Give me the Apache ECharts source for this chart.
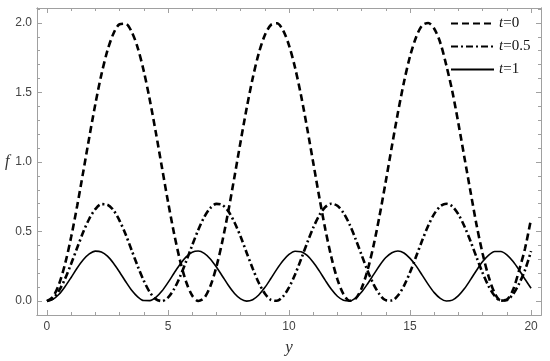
<!DOCTYPE html>
<html>
<head>
<meta charset="utf-8">
<script src="https://cdn.jsdelivr.net/npm/echarts@6/dist/echarts.min.js"></script>
<style>
  html, body { margin: 0; padding: 0; background: #fff; }
  #main { width: 550px; height: 361px; }
</style>
</head>
<body>
<div id="main"></div>
<script>
// sample points along y (step 0.25)
var yValues = [0, 0.25, 0.5, 0.75, 1, 1.25, 1.5, 1.75, 2, 2.25, 2.5, 2.75, 3, 3.25, 3.5, 3.75,
  4, 4.25, 4.5, 4.75, 5, 5.25, 5.5, 5.75, 6, 6.25, 6.5, 6.75, 7, 7.25, 7.5, 7.75,
  8, 8.25, 8.5, 8.75, 9, 9.25, 9.5, 9.75, 10, 10.25, 10.5, 10.75, 11, 11.25, 11.5, 11.75,
  12, 12.25, 12.5, 12.75, 13, 13.25, 13.5, 13.75, 14, 14.25, 14.5, 14.75, 15, 15.25, 15.5, 15.75,
  16, 16.25, 16.5, 16.75, 17, 17.25, 17.5, 17.75, 18, 18.25, 18.5, 18.75, 19, 19.25, 19.5, 19.75, 20];

// t=0
var f0 = [0, 0.031, 0.122, 0.268, 0.460, 0.685, 0.929, 1.178, 1.416, 1.628, 1.801, 1.924, 1.990, 1.994, 1.936, 1.821,
  1.654, 1.446, 1.211, 0.962, 0.716, 0.488, 0.291, 0.139, 0.040, 0.001, 0.023, 0.107, 0.246, 0.432, 0.653, 0.896,
  1.146, 1.386, 1.602, 1.781, 1.911, 1.985, 1.997, 1.948, 1.839, 1.678, 1.476, 1.243, 0.996, 0.748, 0.517, 0.315,
  0.156, 0.050, 0.002, 0.017, 0.093, 0.225, 0.405, 0.622, 0.863, 1.113, 1.355, 1.575, 1.760, 1.897, 1.982, 1.999,
  1.958, 1.857, 1.694, 1.505, 1.275, 1.029, 0.785, 0.546, 0.340, 0.174, 0.056, 0.005, 0.011, 0.079, 0.218, 0.378, 0.592];

// t=0.5
var f05 = [0, 0.019, 0.075, 0.161, 0.268, 0.383, 0.496, 0.592, 0.661, 0.697, 0.693, 0.653, 0.579, 0.480, 0.366, 0.251,
  0.147, 0.064, 0.014, 0.000, 0.025, 0.086, 0.176, 0.285, 0.401, 0.511, 0.604, 0.669, 0.699, 0.690, 0.644, 0.565,
  0.464, 0.348, 0.234, 0.132, 0.055, 0.009, 0.002, 0.032, 0.098, 0.191, 0.302, 0.418, 0.527, 0.616, 0.676, 0.700,
  0.685, 0.634, 0.552, 0.446, 0.331, 0.217, 0.119, 0.046, 0.006, 0.004, 0.040, 0.110, 0.207, 0.320, 0.435, 0.542,
  0.627, 0.682, 0.700, 0.680, 0.623, 0.536, 0.430, 0.314, 0.202, 0.106, 0.037, 0.003, 0.007, 0.049, 0.124, 0.223, 0.360];

// t=1
var f1 = [0, 0.013, 0.049, 0.105, 0.170, 0.238, 0.297, 0.339, 0.359, 0.353, 0.323, 0.272, 0.209, 0.141, 0.078, 0.031,
  0.004, 0.003, 0.026, 0.072, 0.133, 0.200, 0.265, 0.318, 0.351, 0.360, 0.343, 0.303, 0.245, 0.179, 0.112, 0.055,
  0.016, 0.000, 0.010, 0.044, 0.097, 0.162, 0.230, 0.290, 0.335, 0.358, 0.355, 0.328, 0.279, 0.217, 0.149, 0.085,
  0.035, 0.006, 0.001, 0.022, 0.065, 0.125, 0.192, 0.258, 0.313, 0.348, 0.360, 0.346, 0.307, 0.253, 0.187, 0.120,
  0.061, 0.020, 0.001, 0.007, 0.039, 0.090, 0.154, 0.222, 0.284, 0.331, 0.356, 0.357, 0.333, 0.286, 0.225, 0.157, 0.092];

var seriesNames = ['t=0', 't=0.5', 't=1'];

// tick values
var xMajor = [0, 5, 10, 15, 20];
var xMinor = [1, 2, 3, 4, 6, 7, 8, 9, 11, 12, 13, 14, 16, 17, 18, 19];
var fMajor = [0, 0.5, 1, 1.5, 2];
var fMinor = [0.1, 0.2, 0.3, 0.4, 0.6, 0.7, 0.8, 0.9, 1.1, 1.2, 1.3, 1.4, 1.6, 1.7, 1.8, 1.9, 2.1];

var frameColor = '#a0a0a0';
var xMin = -0.41, xMax = 20.41;
var fMin = -0.1, fMax = 2.107;

function pairs(vals) {
  return yValues.map(function (y, i) { return [y, vals[i]]; });
}

// one axis per tick set (major/minor, bottom/top, left/right) so the frame gets mirrored ticks
function frameAxis(kind, pos, ticks, len, labels) {
  var ax = {
    type: 'value',
    position: pos,
    min: kind === 'x' ? xMin : fMin,
    max: kind === 'x' ? xMax : fMax,
    splitLine: { show: false },
    axisLine: { show: true, onZero: false, lineStyle: { color: frameColor, width: 1 } },
    axisTick: { show: true, inside: true, length: len, customValues: ticks,
      lineStyle: { color: frameColor, width: 1 } },
    axisLabel: { show: false }
  };
  if (labels) {
    ax.axisLabel = {
      show: true,
      customValues: ticks,
      color: '#444',
      fontFamily: 'Liberation Sans',
      fontSize: 12,
      margin: kind === 'x' ? 6 : 5,
      formatter: function (v) { return kind === 'x' ? String(v) : v.toFixed(1); }
    };
  }
  return ax;
}

var xAxes = [
  frameAxis('x', 'bottom', xMajor, 5, true),
  frameAxis('x', 'bottom', xMinor, 3, false),
  frameAxis('x', 'top', xMajor, 5, false),
  frameAxis('x', 'top', xMinor, 3, false)
];
xAxes[0].name = 'y';
xAxes[0].nameLocation = 'middle';
xAxes[0].nameGap = 24;
xAxes[0].nameTextStyle = { fontFamily: 'Liberation Serif', fontStyle: 'italic', fontSize: 17, color: '#333' };

var yAxes = [
  frameAxis('y', 'left', fMajor, 5, true),
  frameAxis('y', 'left', fMinor, 3, false),
  frameAxis('y', 'right', fMajor, 5, false),
  frameAxis('y', 'right', fMinor, 3, false)
];
yAxes[0].name = 'f';
yAxes[0].nameLocation = 'middle';
yAxes[0].nameRotate = 0;
yAxes[0].nameGap = 27;
yAxes[0].nameTextStyle = { fontFamily: 'Liberation Serif', fontStyle: 'italic', fontSize: 16, color: '#333' };

var styles = [
  { width: 2.6, type: [7, 4] },
  { width: 2.6, type: [7, 3, 2, 3] },
  { width: 1.6, type: 'solid' }
];
var dataSets = [f0, f05, f1];

var chart = echarts.init(document.getElementById('main'));
chart.setOption({
  backgroundColor: '#fff',
  animation: false,
  grid: { left: 37, right: 9, top: 8, bottom: 44, containLabel: false },
  legend: {
    orient: 'vertical',
    left: 445,
    top: 11,
    itemWidth: 43,
    itemHeight: 14,
    itemGap: 8,
    data: seriesNames,
    itemStyle: { opacity: 0 },
    formatter: function (name) { return '{i|t}{n|' + name.slice(1) + '}'; },
    textStyle: {
      rich: {
        i: { fontFamily: 'Liberation Serif', fontStyle: 'italic', fontSize: 15, color: '#111' },
        n: { fontFamily: 'Liberation Serif', fontSize: 15, color: '#111' }
      }
    }
  },
  xAxis: xAxes,
  yAxis: yAxes,
  series: seriesNames.map(function (name, i) {
    return {
      name: name,
      type: 'line',
      xAxisIndex: 0,
      yAxisIndex: 0,
      data: pairs(dataSets[i]),
      smooth: 0.3,
      showSymbol: false,
      symbol: 'none',
      lineStyle: { color: '#000', width: styles[i].width, type: styles[i].type },
      itemStyle: { color: '#000' }
    };
  })
});
</script>
</body>
</html>
